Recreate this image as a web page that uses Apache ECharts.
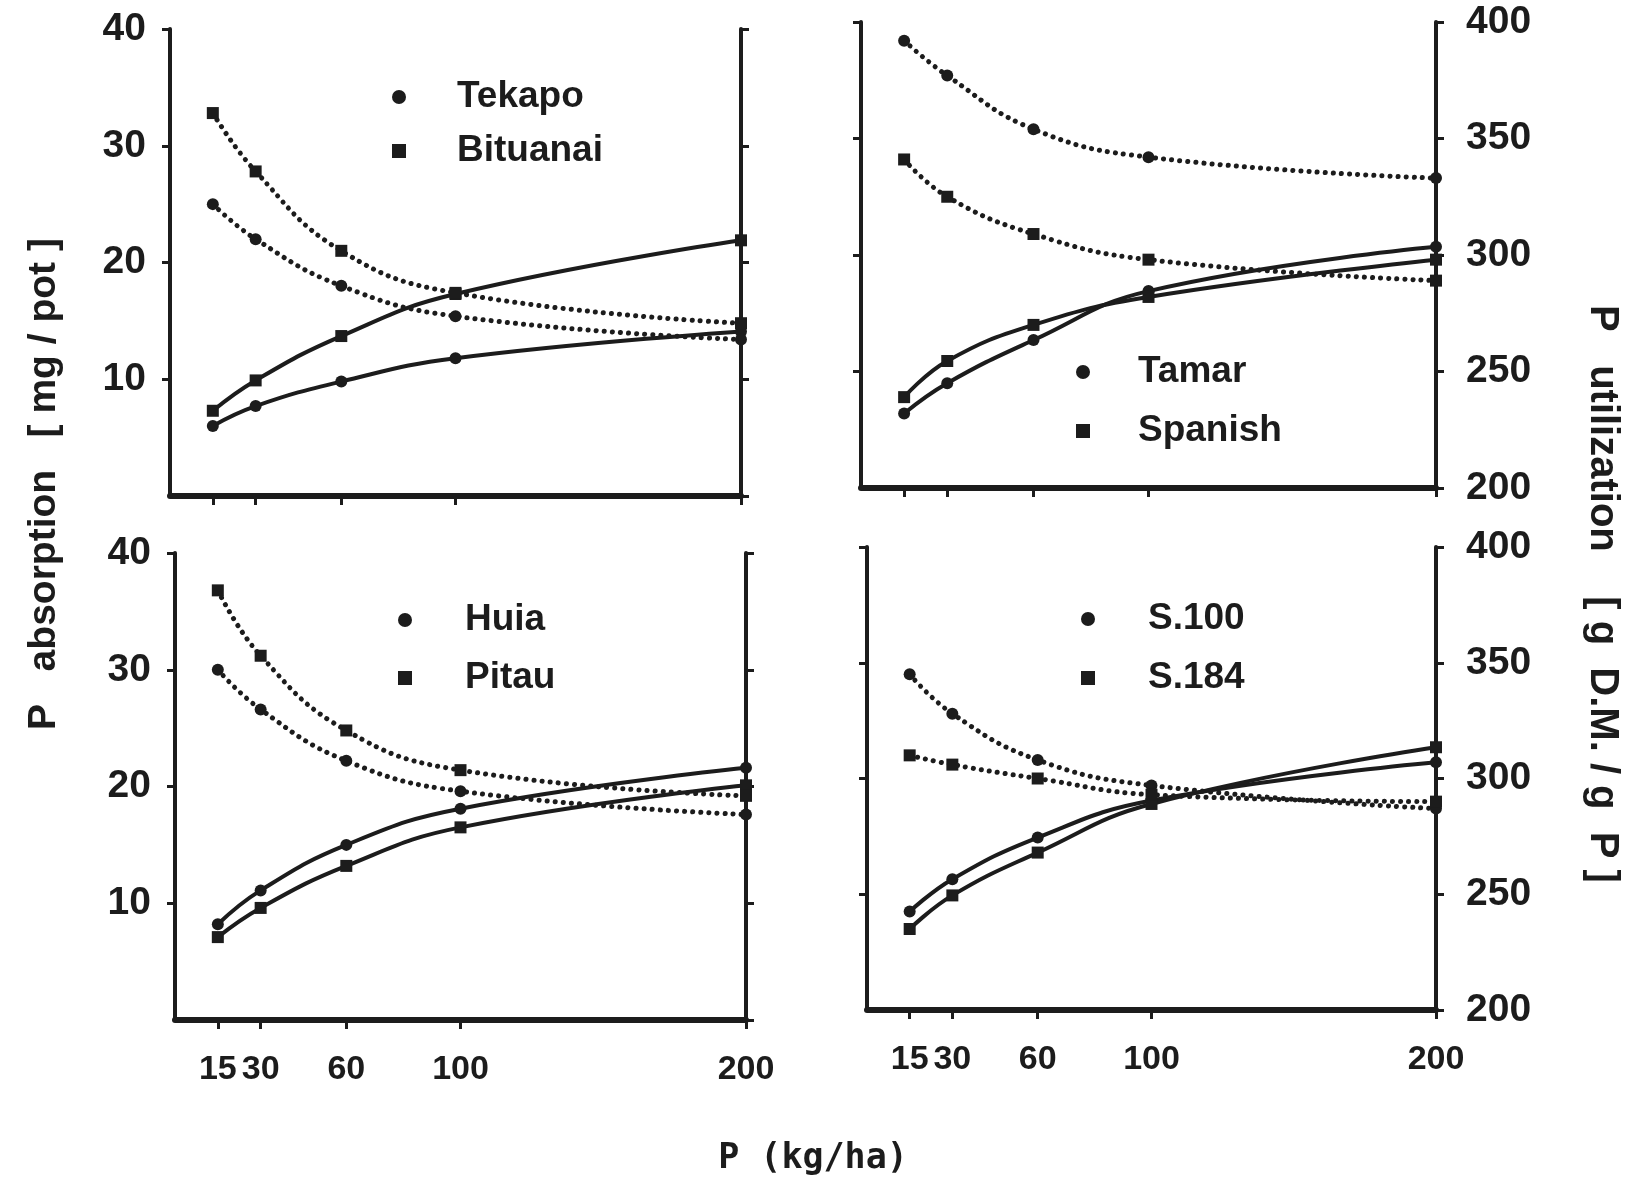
<!DOCTYPE html>
<html>
<head>
<meta charset="utf-8">
<script src="https://cdn.jsdelivr.net/npm/echarts@6/dist/echarts.min.js"></script>
<style>
html,body{margin:0;padding:0;background:#fff;}
#chart{width:1644px;height:1181px;}
</style>
</head>
<body>
<div id="chart"></div>
<script>
// ---- data ----
const P_RATES = [15, 30, 60, 100, 200];
const X_TICKS = [15, 30, 60, 100, 200];
const ABS_TICKS = [10, 20, 30, 40];
const UTIL_TICKS = [200, 250, 300, 350, 400];

const cultivarsCircle = ['Tekapo', 'Tamar', 'Huia', 'S.100'];
const cultivarsSquare = ['Bituanai', 'Spanish', 'Pitau', 'S.184'];

// P absorption (mg/pot)
const tekapoAbs   = [6.0, 7.7, 9.8, 11.8, 14.1];
const bituanaiAbs = [7.3, 9.9, 13.7, 17.3, 21.9];
const tamarAbs    = [6.4, 9.0, 12.7, 16.9, 20.7];
const spanishAbs  = [7.8, 10.9, 14.0, 16.4, 19.6];
const huiaAbs     = [8.2, 11.1, 15.0, 18.1, 21.6];
const pitauAbs    = [7.1, 9.6, 13.2, 16.5, 20.1];
const s100Abs     = [8.5, 11.3, 14.9, 18.1, 21.4];
const s184Abs     = [7.0, 9.9, 13.6, 17.8, 22.7];

// P utilization (g D.M. / g P)
const tekapoUtil   = [325, 310, 290, 277, 267];
const bituanaiUtil = [364, 339, 305, 287, 274];
const tamarUtil    = [392, 377, 354, 342, 333];
const spanishUtil  = [341, 325, 309, 298, 289];
const huiaUtil     = [350, 333, 311, 298, 288];
const pitauUtil    = [384, 356, 324, 307, 296];
const s100Util     = [345, 328, 308, 297, 287];
const s184Util     = [310, 306, 300, 293, 290];

const absCircle  = [tekapoAbs, tamarAbs, huiaAbs, s100Abs];
const absSquare  = [bituanaiAbs, spanishAbs, pitauAbs, s184Abs];
const utilCircle = [tekapoUtil, tamarUtil, huiaUtil, s100Util];
const utilSquare = [bituanaiUtil, spanishUtil, pitauUtil, s184Util];

// ---- style / layout ----
const INK = '#1c1c1c';
const SANS = '"Liberation Sans", Arial, sans-serif';
const MONO = '"DejaVu Sans Mono", "Liberation Mono", monospace';

const grids = [
  {left: 170, top: 29, width: 571, height: 467},
  {left: 861, top: 22, width: 575, height: 466},
  {left: 175, top: 553, width: 571, height: 467},
  {left: 867, top: 547, width: 569, height: 463}
];
const legendPos = [
  {left: 387, top: 71, gap: 12, pad: 46},
  {left: 1071, top: 346, gap: 17, pad: 43},
  {left: 393, top: 594, gap: 16, pad: 48},
  {left: 1076, top: 593, gap: 17, pad: 48}
];

const tickLabel = {fontFamily: SANS, fontWeight: 'bold', fontSize: 39, color: INK};

function pairs(vals) { return P_RATES.map((x, i) => [x, vals[i]]); }

const xAxes = [], yAxes = [], series = [], legends = [];
for (let i = 0; i < 4; i++) {
  const isLeftPanel = (i % 2 === 0);
  const isBottom = (i >= 2);
  xAxes.push({
    type: 'value', gridIndex: i, min: 0, max: 200,
    axisLine: {show: true, onZero: false, lineStyle: {color: INK, width: 6}},
    axisTick: {show: true, customValues: X_TICKS, length: 9, lineStyle: {color: INK, width: 3}},
    axisLabel: {show: isBottom, customValues: X_TICKS, margin: 33, hideOverlap: false,
                showMinLabel: true, showMaxLabel: true, ...tickLabel, fontSize: 34},
    splitLine: {show: false}
  });
  yAxes.push({
    type: 'value', gridIndex: i, min: 0, max: 40, position: 'left',
    axisLine: {show: true, onZero: false, lineStyle: {color: INK, width: 4}},
    axisTick: {show: true, customValues: ABS_TICKS, length: 8, lineStyle: {color: INK, width: 3}},
    axisLabel: {show: isLeftPanel, customValues: ABS_TICKS, margin: 24, ...tickLabel},
    splitLine: {show: false}
  });
  yAxes.push({
    type: 'value', gridIndex: i, min: 200, max: 400, position: 'right',
    axisLine: {show: true, onZero: false, lineStyle: {color: INK, width: 4}},
    axisTick: {show: true, customValues: UTIL_TICKS, length: 8, lineStyle: {color: INK, width: 3}},
    axisLabel: {show: !isLeftPanel, customValues: UTIL_TICKS, margin: 30, ...tickLabel},
    splitLine: {show: false}
  });

  const common = {type: 'line', xAxisIndex: i, smooth: 0.45, silent: true,
                  itemStyle: {color: INK}, z: 3};
  const solid = {color: INK, width: 4};
  const dotted = {color: INK, width: 5, type: [0.1, 8], cap: 'round'};
  series.push({...common, name: cultivarsCircle[i], yAxisIndex: 2 * i, data: pairs(absCircle[i]),
    symbol: 'circle', symbolSize: 12, lineStyle: solid});
  series.push({...common, name: cultivarsSquare[i], yAxisIndex: 2 * i, data: pairs(absSquare[i]),
    symbol: 'rect', symbolSize: 12, lineStyle: solid});
  series.push({...common, name: cultivarsCircle[i], yAxisIndex: 2 * i + 1, data: pairs(utilCircle[i]),
    symbol: 'circle', symbolSize: 12, lineStyle: dotted});
  series.push({...common, name: cultivarsSquare[i], yAxisIndex: 2 * i + 1, data: pairs(utilSquare[i]),
    symbol: 'rect', symbolSize: 12, lineStyle: dotted});

  const lp = legendPos[i];
  legends.push({
    orient: 'vertical', left: lp.left, top: lp.top, itemGap: lp.gap,
    itemWidth: 14, itemHeight: 14, selectedMode: false,
    data: [{name: cultivarsCircle[i], icon: 'circle'}, {name: cultivarsSquare[i], icon: 'rect'}],
    itemStyle: {color: INK},
    textStyle: {fontFamily: SANS, fontWeight: 'bold', fontSize: 37, lineHeight: 42, color: INK,
                padding: [0, 0, 0, lp.pad]}
  });
}

const titleStyle = {fontFamily: SANS, fontWeight: 'bold', fontSize: 38, fill: INK,
                    textAlign: 'center', textVerticalAlign: 'middle'};

const option = {
  backgroundColor: '#ffffff',
  animation: false,
  grid: grids.map(g => ({...g, containLabel: false})),
  xAxis: xAxes,
  yAxis: yAxes,
  legend: legends,
  series: series,
  graphic: [
    {type: 'text', x: 44, y: 484, rotation: Math.PI / 2,
     style: {...titleStyle, fontSize: 39, text: 'P   absorption   [ mg / pot ]'}},
    {type: 'text', x: 1602, y: 594, rotation: -Math.PI / 2,
     style: {...titleStyle, fontSize: 40, text: 'P   utilization    [ g  D.M. / g  P ]'}},
    {type: 'text', x: 813, y: 1159,
     style: {...titleStyle, fontFamily: MONO, fontSize: 35, text: 'P (kg/ha)'}}
  ]
};

const chart = echarts.init(document.getElementById('chart'), null, {renderer: 'canvas'});
chart.setOption(option);
</script>
</body>
</html>
